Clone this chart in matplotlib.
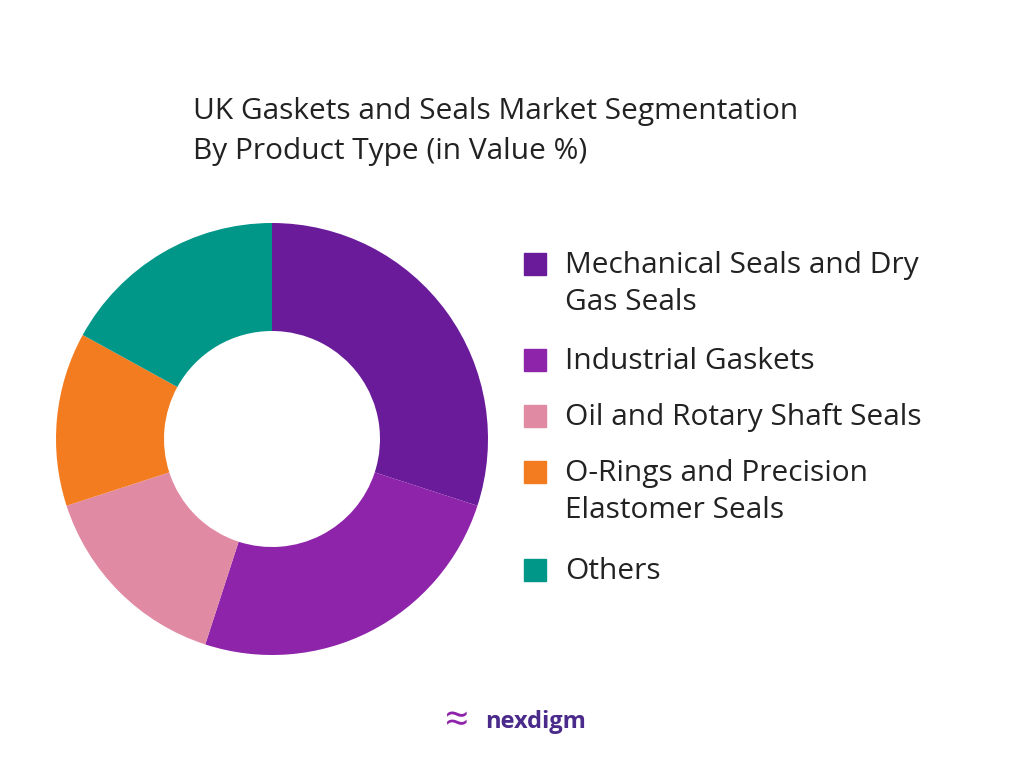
import matplotlib.pyplot as plt
from matplotlib.patches import Rectangle

labels = ["Mechanical Seals and Dry\nGas Seals", "Industrial Gaskets",
          "Oil and Rotary Shaft Seals", "O-Rings and Precision\nElastomer Seals", "Others"]
values = [30, 25, 15, 13, 17]
colors = ["#6A1B9A", "#8E24AA", "#E08AA3", "#F47C20", "#009688"]

plt.rcParams['font.family'] = ['Open Sans', 'DejaVu Sans']

fig = plt.figure(figsize=(10.24, 7.68), dpi=100)
ax = fig.add_axes([272/1024 - 216/1024, 1 - (439 + 216)/768, 432/1024, 432/768])
ax.pie(values, colors=colors, startangle=90, counterclock=False,
       wedgeprops=dict(width=0.5, linewidth=0))
ax.set_xlim(-1, 1)
ax.set_ylim(-1, 1)
ax.set_aspect('equal')

fig.text(193/1024, 1 - 112/768, "UK Gaskets and Seals Market Segmentation",
         fontsize=21.5, color="#222222", va='center')
fig.text(193/1024, 1 - 152/768, "By Product Type (in Value %)",
         fontsize=21.5, color="#222222", va='center')

ys = [264, 360, 416, 472, 570]
for lab, c, y in zip(labels, colors, ys):
    fig.patches.append(Rectangle((524/1024, 1 - (y + 11)/768), 22/1024, 22/768,
                                 color=c, transform=fig.transFigure))
    fig.text(565/1024, 1 - (y - 13)/768, lab, fontsize=21.5, color="#222222",
             va='top', linespacing=1.35)

fig.text(457/1024, 1 - 722/768, "\u2248", fontsize=30, color="#8E24AA",
         va='center', ha='center')
fig.text(485/1024, 1 - 722/768, "nexdigm", fontsize=17, color="#4A2A8A",
         va='center', fontweight='bold')

fig.savefig("out.png", dpi=100, facecolor="white")
